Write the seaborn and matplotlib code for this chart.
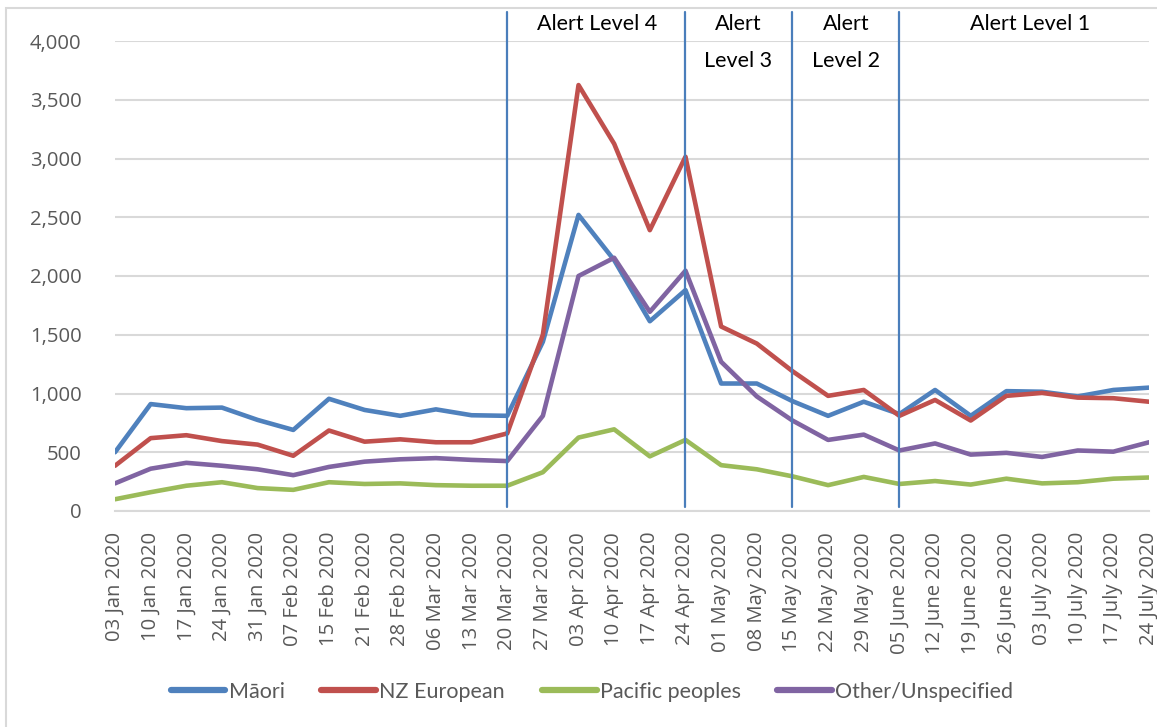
import numpy as np
import pandas as pd
import matplotlib
matplotlib.use("Agg")
import matplotlib.pyplot as plt
from matplotlib.patches import Rectangle
import seaborn as sns

# Weekly counts by ethnicity, 2020
weeks = ["03 Jan 2020", "10 Jan 2020", "17 Jan 2020", "24 Jan 2020", "31 Jan 2020",
         "07 Feb 2020", "15 Feb 2020", "21 Feb 2020", "28 Feb 2020", "06 Mar 2020",
         "13 Mar 2020", "20 Mar 2020", "27 Mar 2020", "03 Apr 2020", "10 Apr 2020",
         "17 Apr 2020", "24 Apr 2020", "01 May 2020", "08 May 2020", "15 May 2020",
         "22 May 2020", "29 May 2020", "05 June 2020", "12 June 2020", "19 June 2020",
         "26 June 2020", "03 July 2020", "10 July 2020", "17 July 2020", "24 July 2020"]

maori = [500, 910, 875, 880, 775, 690, 955, 860, 810, 865, 815, 810, 1440, 2520, 2135,
         1615, 1880, 1085, 1085, 935, 810, 930, 825, 1030, 810, 1020, 1015, 975, 1030, 1050]
nz_european = [385, 620, 645, 595, 565, 470, 685, 590, 610, 585, 585, 660, 1500, 3625, 3125,
               2390, 3015, 1570, 1425, 1190, 980, 1030, 810, 945, 770, 980, 1005, 965, 960, 930]
pacific = [100, 160, 215, 245, 195, 180, 245, 230, 235, 220, 215, 215, 330, 625, 695,
           465, 605, 390, 355, 295, 220, 290, 230, 255, 225, 275, 235, 245, 275, 285]
other = [235, 360, 410, 385, 355, 305, 375, 420, 440, 450, 435, 425, 810, 2000, 2155,
         1695, 2045, 1270, 975, 770, 605, 650, 515, 575, 480, 495, 460, 515, 505, 585]

groups = ["Māori", "NZ European", "Pacific peoples", "Other/Unspecified"]
colors = ["#4F81BD", "#C0504D", "#9BBB59", "#8064A2"]

# Alert level changes (week labels) and their captions
alert_weeks = ["20 Mar 2020", "24 Apr 2020", "15 May 2020", "05 June 2020"]
alert_captions = [("Alert Level 4", ""), ("Alert", "Level 3"), ("Alert", "Level 2"),
                  ("Alert Level 1", "")]

sns.set_style("white")
plt.rcParams["font.family"] = ["Open Sans", "DejaVu Sans"]

rows = []
for g, vals in zip(groups, [maori, nz_european, pacific, other]):
    for i, v in enumerate(vals):
        rows.append({"week": i, "count": v, "group": g})
df = pd.DataFrame(rows)

W, H = 1157, 727
fig = plt.figure(figsize=(W / 100, H / 100), dpi=100)
ax = fig.add_axes([115 / W, 1 - 511 / H, (1149 - 115) / W, (511 - 41) / H])

sns.lineplot(data=df, x="week", y="count", hue="group", hue_order=groups,
             palette=colors, linewidth=3.3, ax=ax, solid_capstyle="round")

ax.set_xlim(0, len(weeks) - 1)
ax.set_ylim(0, 4000)
ax.set_yticks(np.arange(0, 4001, 500))
ax.set_yticklabels([f"{v:,}" for v in range(0, 4001, 500)])
ax.set_xticks(range(len(weeks)))
ax.set_xticklabels(weeks, rotation=90)
ax.set_xlabel("")
ax.set_ylabel("")

ax.grid(axis="y", color="#D9D9D9", linewidth=1.5)
ax.set_axisbelow(True)
for s in ["top", "right", "left"]:
    ax.spines[s].set_visible(False)
ax.spines["bottom"].set_color("#D9D9D9")
ax.spines["bottom"].set_linewidth(1.5)
ax.tick_params(axis="y", length=0, pad=24, labelsize=14.6, labelcolor="#595959")
ax.tick_params(axis="x", length=6, width=1.5, color="#D9D9D9", direction="out",
               pad=9, labelsize=14.6, labelcolor="#595959")

# Vertical markers for alert level changes
for wk in alert_weeks:
    xi = weeks.index(wk)
    ax.plot([xi, xi], [35, 4245], color="#4A7EBB", linewidth=1.6, clip_on=False, zorder=3)

# Captions for each alert period (two lines where the period is narrow)
cap_x = [13.53, 17.47, 20.5, 25.66]
line_y = [4145, 3830]
for x, (first, second) in zip(cap_x, alert_captions):
    for txt, y in zip((first, second), line_y):
        if txt:
            ax.text(x, y, txt, ha="center", va="center", fontsize=15.5, color="black",
                    family=["Lato", "DejaVu Sans"], clip_on=False)

# Legend below the axes
handles, labels = ax.get_legend_handles_labels()
leg = ax.legend(handles, labels, loc="center",
                bbox_to_anchor=((592 - 115) / 1034, (511 - 692) / 470),
                ncol=4, frameon=False, handlelength=2.55, handletextpad=0.15,
                columnspacing=1.7, prop={"family": ["Lato", "DejaVu Sans"], "size": 15.5})
for t in leg.get_texts():
    t.set_color("#595959")
for line in leg.get_lines():
    line.set_linewidth(4.5)
    line.set_solid_capstyle("round")

# Chart area border
fig.patches.append(Rectangle((6 / W, -0.05), 1.2, 1 - 8 / H + 0.05, transform=fig.transFigure,
                             fill=False, edgecolor="#D9D9D9", linewidth=1.5))

fig.savefig("out.png", dpi=100)
